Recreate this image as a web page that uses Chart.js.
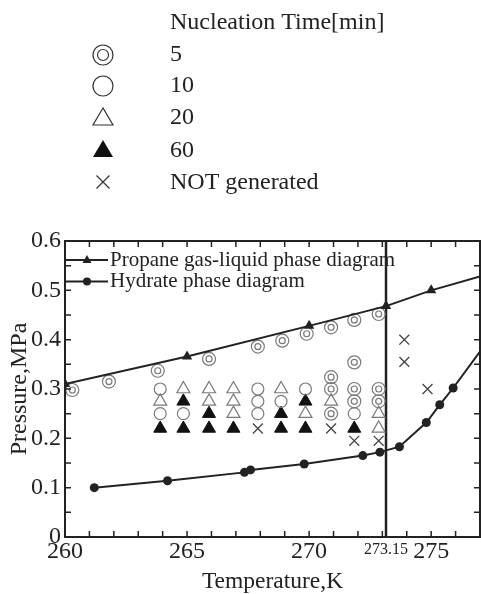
<!DOCTYPE html>
<html lang="en">
<head>
<meta charset="UTF-8">
<script src="https://cdn.jsdelivr.net/npm/chart.js"></script>
<title>Nucleation time</title>
<style>
  html, body { margin: 0; padding: 0; background: #fff; }
  #chart { display: block; }
</style>
</head>
<body>
<canvas id="chart" width="481" height="594"></canvas>
<script>
// propane gas-liquid phase diagram (last point has no marker)
const propaneT = [260, 265, 270, 273.15, 275, 277];
const propaneP = [0.31, 0.366, 0.428, 0.468, 0.50, 0.528];

// hydrate phase diagram (last point has no marker)
const hydrateT = [261.2, 264.2, 267.35, 267.6, 269.8, 272.2, 272.9, 273.7, 274.8, 275.35, 275.9, 277];
const hydrateP = [0.100, 0.114, 0.131, 0.136, 0.148, 0.165, 0.172, 0.183, 0.232, 0.268, 0.302, 0.376];

// nucleation time 5 min
const min5T = [260.3, 261.8, 263.8, 265.9, 267.9, 268.9, 269.9, 270.9, 271.85, 272.85,
               270.9, 270.9, 270.9, 271.85, 271.85, 271.85, 272.85, 272.85];
const min5P = [0.298, 0.315, 0.337, 0.361, 0.386, 0.398, 0.412, 0.425, 0.44, 0.452,
               0.324, 0.30, 0.25, 0.354, 0.30, 0.275, 0.30, 0.275];

// 10 min
const min10T = [263.9, 263.9, 264.85, 267.9, 267.9, 267.9, 268.85, 269.85, 271.85];
const min10P = [0.30, 0.25, 0.25, 0.30, 0.275, 0.25, 0.275, 0.30, 0.25];

// 20 min
const min20T = [263.9, 264.85, 265.9, 265.9, 266.9, 266.9, 266.9, 268.85, 269.85, 270.9, 272.85, 272.85];
const min20P = [0.275, 0.30, 0.30, 0.275, 0.30, 0.275, 0.25, 0.30, 0.25, 0.275, 0.25, 0.22];

// 60 min
const min60T = [263.9, 264.85, 264.85, 265.9, 265.9, 266.9, 268.85, 268.85, 269.85, 269.85, 271.85];
const min60P = [0.22, 0.275, 0.22, 0.25, 0.22, 0.22, 0.25, 0.22, 0.275, 0.22, 0.22];

// not generated
const noneT = [267.9, 270.9, 271.85, 272.85, 273.9, 273.9, 274.85];
const noneP = [0.22, 0.22, 0.195, 0.195, 0.40, 0.355, 0.30];

const xTicks = [260, 265, 270, 273.15, 275];

const SERIF = "'Liberation Serif', 'Times New Roman', serif";
const INK = '#222';
const GRAY = '#7a7a7a';

const pts = (T, P) => T.map((t, i) => ({ x: t, y: P[i] }));

// frame, 273.15 line, inward ticks and both legends
const decor = {
  id: 'decor',
  beforeDatasetsDraw(chart) {
    const { ctx, chartArea: a, scales: { x } } = chart;
    const xm = x.getPixelForValue(273.15);
    ctx.save();
    ctx.strokeStyle = INK;
    ctx.lineWidth = 2.5;
    ctx.beginPath();
    ctx.moveTo(xm, a.top);
    ctx.lineTo(xm, a.bottom);
    ctx.stroke();
    ctx.restore();
  },
  afterDraw(chart) {
    const { ctx, chartArea: a, scales: { x, y } } = chart;
    ctx.save();
    ctx.strokeStyle = INK;
    ctx.lineWidth = 2;
    ctx.strokeRect(a.left, a.top, a.right - a.left, a.bottom - a.top);

    ctx.lineWidth = 1.5;
    ctx.beginPath();
    for (let t = 260; t <= 277; t++) {
      const px = x.getPixelForValue(t);
      ctx.moveTo(px, a.bottom); ctx.lineTo(px, a.bottom - 6);
      ctx.moveTo(px, a.top); ctx.lineTo(px, a.top + 6);
    }
    for (let k = 0; k <= 12; k++) {
      const py = y.getPixelForValue(k * 0.05);
      ctx.moveTo(a.left, py); ctx.lineTo(a.left + 6, py);
      ctx.moveTo(a.right, py); ctx.lineTo(a.right - 6, py);
    }
    ctx.stroke();

    // legend inside the plot
    ctx.lineWidth = 2;
    ctx.fillStyle = INK;
    const ly1 = 260, ly2 = 281.5;
    ctx.beginPath();
    ctx.moveTo(a.left, ly1); ctx.lineTo(a.left + 43, ly1);
    ctx.moveTo(a.left, ly2); ctx.lineTo(a.left + 43, ly2);
    ctx.stroke();
    ctx.beginPath();
    ctx.moveTo(87, ly1 - 5); ctx.lineTo(82.5, ly1 + 3); ctx.lineTo(91.5, ly1 + 3);
    ctx.closePath(); ctx.fill();
    ctx.beginPath(); ctx.arc(87, ly2, 4, 0, Math.PI * 2); ctx.fill();
    ctx.font = '21px ' + SERIF;
    ctx.textBaseline = 'middle';
    ctx.textAlign = 'left';
    ctx.fillText('Propane gas-liquid phase diagram', a.left + 45, ly1);
    ctx.fillText('Hydrate phase diagram', a.left + 45, ly2);

    // legend above the plot
    const sx = 103, tx = 170;
    ctx.font = '24px ' + SERIF;
    ctx.fillText('Nucleation Time[min]', tx, 23);
    ctx.lineWidth = 1.2;
    ctx.strokeStyle = '#333';
    ctx.fillStyle = '#111';
    ctx.beginPath(); ctx.arc(sx, 55, 10, 0, Math.PI * 2); ctx.stroke();
    ctx.beginPath(); ctx.arc(sx, 55, 5.5, 0, Math.PI * 2); ctx.stroke();
    ctx.beginPath(); ctx.arc(sx, 86, 10, 0, Math.PI * 2); ctx.stroke();
    ctx.beginPath();
    ctx.moveTo(sx, 108); ctx.lineTo(sx - 10, 125); ctx.lineTo(sx + 10, 125);
    ctx.closePath(); ctx.stroke();
    ctx.beginPath();
    ctx.moveTo(sx, 140); ctx.lineTo(sx - 10, 157); ctx.lineTo(sx + 10, 157);
    ctx.closePath(); ctx.fill();
    ctx.beginPath();
    ctx.moveTo(sx - 6.5, 175.5); ctx.lineTo(sx + 6.5, 188.5);
    ctx.moveTo(sx + 6.5, 175.5); ctx.lineTo(sx - 6.5, 188.5);
    ctx.stroke();
    ctx.fillStyle = INK;
    ctx.fillText('5', tx, 55);
    ctx.fillText('10', tx, 86);
    ctx.fillText('20', tx, 118);
    ctx.fillText('60', tx, 150.5);
    ctx.fillText('NOT generated', tx, 182.5);
    ctx.restore();
  }
};

const ctx = document.getElementById('chart').getContext('2d');

new Chart(ctx, {
  type: 'scatter',
  data: {
    datasets: [
      {
        label: 'Propane gas-liquid phase diagram',
        data: pts(propaneT, propaneP),
        showLine: true,
        borderColor: INK,
        borderWidth: 2,
        backgroundColor: INK,
        pointStyle: 'triangle',
        pointRadius: propaneT.map(t => t < 277 ? 6 : 0),
        pointBorderWidth: 0
      },
      {
        label: 'Hydrate phase diagram',
        data: pts(hydrateT, hydrateP),
        showLine: true,
        borderColor: INK,
        borderWidth: 2,
        backgroundColor: INK,
        pointStyle: 'circle',
        pointRadius: hydrateT.map(t => t < 277 ? 4.5 : 0),
        pointBorderWidth: 0
      },
      {
        label: '5',
        data: pts(min5T, min5P),
        pointStyle: 'circle',
        pointRadius: 6.5,
        borderColor: GRAY,
        borderWidth: 1.2,
        backgroundColor: 'rgba(0,0,0,0)'
      },
      {
        label: '5 inner',
        data: pts(min5T, min5P),
        pointStyle: 'circle',
        pointRadius: 3,
        borderColor: GRAY,
        borderWidth: 1.2,
        backgroundColor: 'rgba(0,0,0,0)'
      },
      {
        label: '10',
        data: pts(min10T, min10P),
        pointStyle: 'circle',
        pointRadius: 6,
        borderColor: GRAY,
        borderWidth: 1.2,
        backgroundColor: 'rgba(0,0,0,0)'
      },
      {
        label: '20',
        data: pts(min20T, min20P),
        pointStyle: 'triangle',
        pointRadius: 7.5,
        borderColor: GRAY,
        borderWidth: 1.2,
        backgroundColor: 'rgba(0,0,0,0)'
      },
      {
        label: '60',
        data: pts(min60T, min60P),
        pointStyle: 'triangle',
        pointRadius: 7.5,
        borderColor: '#111',
        borderWidth: 1,
        backgroundColor: '#111'
      },
      {
        label: 'NOT generated',
        data: pts(noneT, noneP),
        pointStyle: 'crossRot',
        pointRadius: 7,
        borderColor: '#444',
        borderWidth: 1.3
      }
    ]
  },
  options: {
    responsive: false,
    animation: false,
    events: [],
    layout: { autoPadding: false, padding: { top: 241, right: 1, left: 0, bottom: 0 } },
    plugins: {
      legend: { display: false },
      tooltip: { enabled: false }
    },
    scales: {
      x: {
        type: 'linear',
        min: 260,
        max: 277,
        afterBuildTicks: s => { s.ticks = xTicks.map(v => ({ value: v })); },
        afterFit: s => { s.height = 57; s.paddingLeft = 0; s.paddingRight = 0; },
        grid: { display: false, drawTicks: false },
        border: { display: false },
        ticks: {
          autoSkip: false,
          maxRotation: 0,
          padding: 0,
          color: INK,
          font: c => c.tick && c.tick.value === 273.15
            ? { family: SERIF, size: 16, lineHeight: 1.6 }
            : { family: SERIF, size: 24 },
          callback: v => v === 273.15 ? '273.15' : String(v)
        },
        title: {
          display: true,
          text: 'Temperature,K',
          color: INK,
          font: { family: SERIF, size: 23.5 },
          padding: { top: 0, bottom: -2 }
        }
      },
      y: {
        min: 0,
        max: 0.6,
        afterFit: s => { s.width = 65; s.paddingTop = 0; s.paddingBottom = 0; },
        grid: { display: false, drawTicks: false },
        border: { display: false },
        ticks: {
          stepSize: 0.1,
          padding: 4,
          color: INK,
          font: { family: SERIF, size: 24 },
          callback: v => v === 0 ? '0' : v.toFixed(1)
        },
        title: {
          display: true,
          text: 'Pressure,MPa',
          color: INK,
          font: { family: SERIF, size: 24 },
          padding: { top: 5, bottom: 0 }
        }
      }
    }
  },
  plugins: [decor]
});
</script>
</body>
</html>
